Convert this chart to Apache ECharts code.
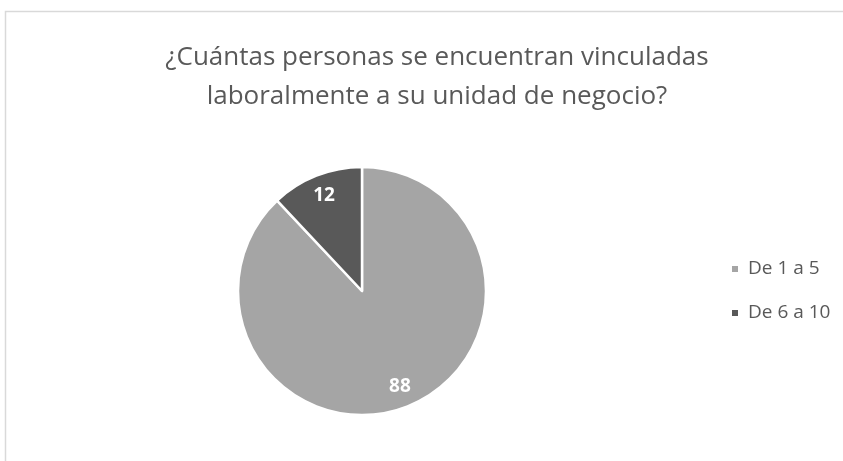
<!DOCTYPE html>
<html>
<head>
<meta charset="utf-8">
<script src="https://cdn.jsdelivr.net/npm/echarts@6/dist/echarts.min.js"></script>
<style>
  html, body { margin: 0; padding: 0; background: #fff; }
  #chart { width: 843px; height: 461px; }
</style>
</head>
<body>
<div id="chart"></div>
<script>
// datos
var categorias = ['De 1 a 5', 'De 6 a 10'];
var valores = [88, 12];
var colores = ['#a5a5a5', '#595959'];

var chart = echarts.init(document.getElementById('chart'));

var datos = categorias.map(function (c, i) {
  return { name: c, value: valores[i], itemStyle: { color: colores[i] } };
});

var option = {
  backgroundColor: '#fff',
  animation: false,
  title: {
    text: '¿Cuántas personas se encuentran vinculadas\nlaboralmente a su unidad de negocio?',
    left: 437,
    textAlign: 'center',
    top: 38,
    padding: 0,
    textStyle: {
      fontFamily: 'Open Sans',
      fontWeight: 'normal',
      fontSize: 26,
      lineHeight: 39,
      color: '#595959'
    }
  },
  legend: {
    orient: 'vertical',
    left: 730,
    top: 259,
    padding: 0,
    itemWidth: 8,
    itemHeight: 8,
    itemGap: 24,
    icon: 'rect',
    textStyle: {
      fontFamily: 'Open Sans',
      fontSize: 19,
      lineHeight: 20,
      padding: [0, 0, 0, 4],
      color: '#595959'
    },
    data: categorias
  },
  graphic: [{
    type: 'rect',
    shape: { x: 5.5, y: 11.5, width: 900, height: 500 },
    style: { fill: 'none', stroke: '#d9d9d9', lineWidth: 1.5 },
    silent: true
  }],
  series: [
    {
      type: 'pie',
      center: [362, 291],
      radius: [0, 124],
      startAngle: 90,
      clockwise: true,
      label: { show: false },
      labelLine: { show: false },
      itemStyle: { borderColor: '#fff', borderWidth: 2.5 },
      emphasis: { disabled: true },
      data: datos
    },
    {
      // serie auxiliar solo para colocar etiquetas a ~80% del radio
      type: 'pie',
      center: [362, 291],
      radius: [76, 124],
      startAngle: 90,
      clockwise: true,
      silent: true,
      legendHoverLink: false,
      itemStyle: { color: 'rgba(0,0,0,0)', borderWidth: 0 },
      label: {
        show: true,
        position: 'inside',
        formatter: '{c}',
        fontFamily: 'Open Sans',
        fontWeight: 'bold',
        fontSize: 19,
        color: '#fff'
      },
      labelLine: { show: false },
      emphasis: { disabled: true },
      data: categorias.map(function (c, i) { return { name: c + ' ', value: valores[i] }; })
    }
  ]
};

chart.setOption(option);
</script>
</body>
</html>
